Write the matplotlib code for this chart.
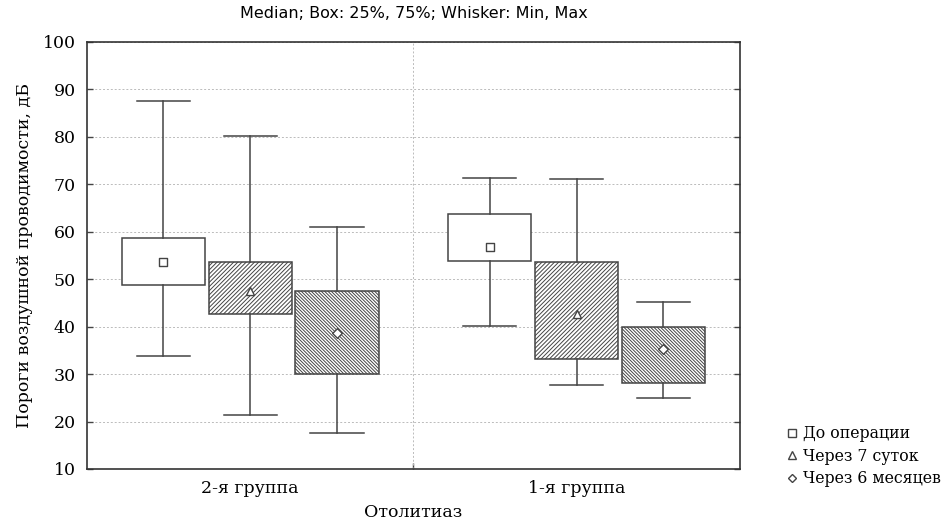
import matplotlib

matplotlib.use("Agg")
import matplotlib.pyplot as plt
from matplotlib.lines import Line2D

# Data (dB)
groups = ["2-я группа", "1-я группа"]
series = ["До операции", "Через 7 суток", "Через 6 месяцев"]
medians = [[53.6, 56.8], [47.6, 42.7], [38.7, 35.2]]
q1 = [[48.8, 53.9], [42.6, 33.2], [30.0, 28.1]]
q3 = [[58.7, 63.7], [53.6, 53.6], [47.5, 40.0]]
mins = [[33.8, 40.1], [21.4, 27.6], [17.6, 25.0]]
maxs = [[87.6, 71.3], [80.2, 71.2], [61.0, 45.1]]
yticks = [10, 20, 30, 40, 50, 60, 70, 80, 90, 100]

markers = ["s", "^", "D"]
hatches = [None, "/" * 8, "\\" * 10]
offsets = [-0.266, 0.0, 0.266]
line_c = "#444444"

plt.rcParams.update(
    {
        "font.family": "DejaVu Serif",
        "hatch.linewidth": 0.7,
        "hatch.color": "#666666",
    }
)

fig = plt.figure(figsize=(9.46, 5.26), dpi=100)
ax = fig.add_axes([0.092, 0.1084, 0.690, 0.8118])

for s in range(len(series)):
    stats = []
    for g in range(len(groups)):
        stats.append(
            {
                "med": medians[s][g],
                "q1": q1[s][g],
                "q3": q3[s][g],
                "whislo": mins[s][g],
                "whishi": maxs[s][g],
            }
        )
    pos = [g + offsets[s] for g in range(len(groups))]
    bp = ax.bxp(
        stats,
        positions=pos,
        widths=0.255,
        capwidths=0.163,
        patch_artist=True,
        showfliers=False,
        boxprops=dict(facecolor="white", edgecolor=line_c, linewidth=1.1),
        whiskerprops=dict(color=line_c, linewidth=1.1),
        capprops=dict(color=line_c, linewidth=1.1),
        medianprops=dict(visible=False),
        zorder=3,
    )
    for patch in bp["boxes"]:
        if hatches[s]:
            patch.set_hatch(hatches[s])
    ax.scatter(
        pos,
        medians[s],
        marker=markers[s],
        s=[40, 34, 24][s],
        facecolor="white",
        edgecolor=line_c,
        linewidth=1.0,
        zorder=5,
    )

ax.set_xlim(-0.5, 1.5)
ax.set_ylim(10, 100)
ax.set_yticks(yticks)
ax.set_xticks([0, 1])
ax.set_xticklabels(groups)
ax.set_xticks([0.5], minor=True)
ax.tick_params(axis="x", which="major", length=0, labelsize=12.5, pad=8)
ax.tick_params(axis="x", which="minor", direction="in", length=4, width=1.0, color=line_c)
ax.tick_params(axis="y", direction="in", length=4, width=1.0, right=True,
               labelsize=12.5, color=line_c, pad=8)

ax.yaxis.grid(True, linestyle=(0, (2, 2)), color="#bbbbbb", linewidth=0.7)
ax.axvline(0.5, linestyle=(0, (2, 2)), color="#bbbbbb", linewidth=0.7, zorder=1)
ax.set_axisbelow(True)
for sp in ax.spines.values():
    sp.set_linewidth(1.2)
    sp.set_color("#333333")

ax.set_ylabel("Пороги воздушной проводимости, дБ", fontsize=12.5, labelpad=7)
ax.set_xlabel("Отолитиаз", fontsize=12.5, labelpad=5)
ax.set_title(
    "Median; Box: 25%, 75%; Whisker: Min, Max",
    family="DejaVu Sans",
    fontsize=11.5,
    pad=17,
)

handles = [
    Line2D([], [], linestyle="none", marker=markers[i], markersize=[6, 5.5, 4.5][i],
           markerfacecolor="white", markeredgecolor=line_c, markeredgewidth=1.0)
    for i in range(len(series))
]
fig.legend(
    handles,
    series,
    loc="upper left",
    bbox_to_anchor=(0.832, 0.192),
    frameon=False,
    fontsize=11.3,
    handlelength=0.6,
    handletextpad=0.4,
    labelspacing=0.35,
    borderaxespad=0,
    borderpad=0,
)

fig.savefig("out.png", dpi=100, facecolor="white")
